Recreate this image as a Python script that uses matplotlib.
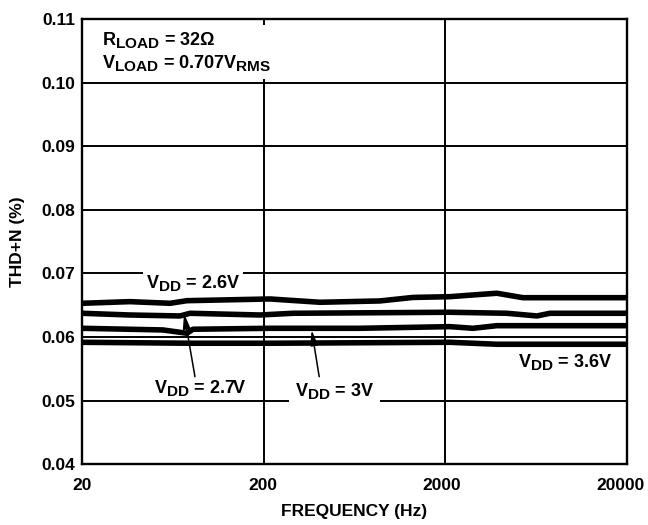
import matplotlib
matplotlib.use("Agg")
import matplotlib.pyplot as plt
import matplotlib._mathtext as _mt
import matplotlib.transforms as mtrans
from matplotlib.ticker import FixedLocator, FixedFormatter, NullLocator

_mt.SHRINK_FACTOR = 0.85

plt.rcParams['font.family'] = ['Liberation Sans', 'DejaVu Sans']
plt.rcParams['font.weight'] = 'bold'
plt.rcParams['mathtext.fontset'] = 'custom'
plt.rcParams['mathtext.rm'] = 'Liberation Sans:bold'
plt.rcParams['mathtext.bf'] = 'Liberation Sans:bold'
plt.rcParams['mathtext.it'] = 'Liberation Sans:bold'
plt.rcParams['mathtext.default'] = 'bf'

# ---- data ----
freq_26 = [20, 36.7, 61.1, 75.7, 217, 409, 875, 1329, 2125, 2845, 3855, 5360, 20000]
thd_26 = [0.06531, 0.06557, 0.06531, 0.06572, 0.06599, 0.06547, 0.06568, 0.06623,
          0.06635, 0.06662, 0.06689, 0.06619, 0.06619]

freq_27 = [20, 36.7, 69.3, 78.7, 191, 290, 2125, 4380, 6405, 7550, 20000]
thd_27 = [0.06374, 0.06347, 0.06332, 0.06374, 0.06347, 0.06374, 0.06390, 0.06374,
          0.06332, 0.06374, 0.06374]

freq_30 = [20, 55.8, 75.7, 81.7, 217, 679, 2125, 2845, 3855, 20000]
thd_30 = [0.06138, 0.06112, 0.06060, 0.06123, 0.06138, 0.06138, 0.06164, 0.06138,
          0.06179, 0.06179]

freq_36 = [20, 78.7, 217, 2125, 3855, 20000]
thd_36 = [0.05918, 0.05903, 0.05903, 0.05918, 0.05887, 0.05887]

x_ticks = [20, 200, 2000, 20000]
x_tick_labels = ['20', '200', '2000', '20000']
y_ticks = [0.04, 0.05, 0.06, 0.07, 0.08, 0.09, 0.10, 0.11]
y_tick_labels = ['0.04', '0.05', '0.06', '0.07', '0.08', '0.09', '0.10', '0.11']

series = [(freq_26, thd_26), (freq_27, thd_27), (freq_30, thd_30), (freq_36, thd_36)]

# ---- figure ----
fig = plt.figure(figsize=(6.48, 5.25), dpi=100)
ax = fig.add_axes([82 / 648, 1 - 464.3 / 525, 544.7 / 648, 445.3 / 525])

ax.set_xscale('log')
ax.set_xlim(20, 20000)
ax.set_ylim(0.04, 0.11)

ax.xaxis.set_major_locator(FixedLocator(x_ticks))
ax.xaxis.set_major_formatter(FixedFormatter(x_tick_labels))
ax.xaxis.set_minor_locator(NullLocator())
ax.yaxis.set_major_locator(FixedLocator(y_ticks))
ax.yaxis.set_major_formatter(FixedFormatter(y_tick_labels))
ax.tick_params(axis='both', length=0)
ax.tick_params(axis='x', pad=10, labelsize=12.5)
ax.tick_params(axis='y', pad=5, labelsize=12.5)

# small leftward nudges of the x tick labels, as in the reference
label_nudge_px = [0, -1, -3, -6]
for t, dx in zip(ax.xaxis.get_major_ticks(len(x_ticks)), label_nudge_px):
    off = mtrans.ScaledTranslation(dx / 100, 0, fig.dpi_scale_trans)
    t.label1.set_transform(t.label1.get_transform() + off)

ax.grid(True, color='black', linewidth=1.4, zorder=1)
for s in ax.spines.values():
    s.set_linewidth(1.7)
    s.set_zorder(5)

for f, v in series:
    ax.plot(f, v, color='black', linewidth=4.0, solid_capstyle='butt', zorder=3)

ax.set_xlabel('FREQUENCY (Hz)', fontsize=12.5, fontweight='bold', labelpad=8)
ax.set_ylabel('THD+N (%)', fontsize=12.5, fontweight='bold', labelpad=12)

white = dict(facecolor='white', edgecolor='none', pad=2)

ax.text(0.036, 0.889, '$R_{LOAD}$ = 32Ω\n$V_{LOAD}$ = 0.707$V_{RMS}$',
        transform=ax.transAxes, fontsize=13, ha='left', va='baseline',
        linespacing=1.2,
        bbox=dict(facecolor='white', edgecolor='none', pad=4), zorder=4)

ax.text(82.0, 0.06772, '$V_{DD}$ = 2.6V', fontsize=13, ha='center',
        va='baseline', bbox=white, zorder=4)
ax.text(90.2, 0.05126, '$V_{DD}$ = 2.7V', fontsize=13, ha='center',
        va='baseline', bbox=white, zorder=4)
ax.text(491, 0.05074, '$V_{DD}$ = 3V', fontsize=13, ha='center',
        va='baseline', bbox=dict(facecolor='white', edgecolor='none', pad=4),
        zorder=4)
ax.text(9194, 0.05525, '$V_{DD}$ = 3.6V', fontsize=13, ha='center',
        va='baseline', bbox=white, zorder=4)

arrow = dict(arrowstyle='-|>,head_length=0.9,head_width=0.22', color='black',
             lw=1.1, shrinkA=0, shrinkB=0)
ax.annotate('', xy=(72.9, 0.06374), xytext=(83.8, 0.05377), arrowprops=arrow,
            zorder=6)
ax.annotate('', xy=(368, 0.06112), xytext=(405, 0.05377), arrowprops=arrow,
            zorder=6)

fig.savefig('out.png', dpi=100)
